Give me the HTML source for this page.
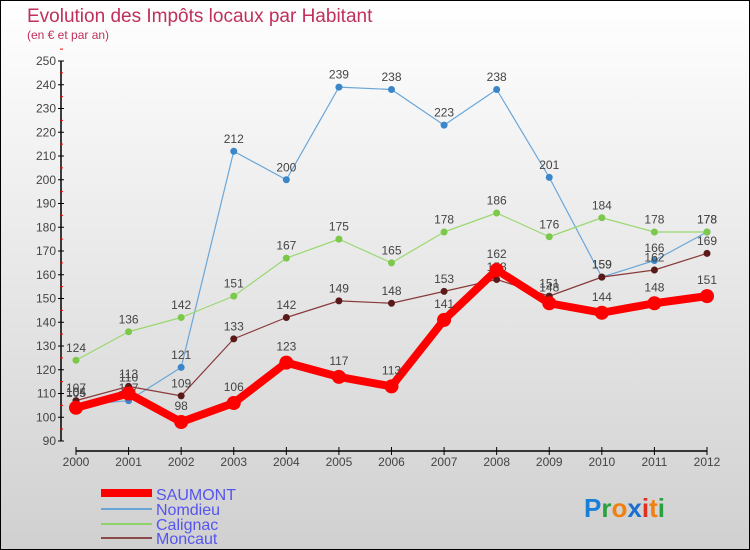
<!DOCTYPE html>
<html><head><meta charset="utf-8"><style>
body{margin:0}
#c{width:748px;height:548px;border:1px solid #000;background:linear-gradient(#fff,#d0d0d0);position:relative;font-family:"Liberation Sans",sans-serif;overflow:hidden}
</style></head><body>
<div id="c">
<svg id="s" width="748" height="548" xmlns="http://www.w3.org/2000/svg">
<text x="26" y="21" font-size="19" fill="#c0305a">Evolution des Impôts locaux par Habitant</text>
<text x="26" y="38" font-size="12" fill="#c0305a">(en € et par an)</text>
<g id="axes"></g><g id="plot"></g>
<g font-size="16" fill="#5555ee">
<rect x="100" y="488" width="51" height="8" fill="#f00"/>
<text x="155" y="499">SAUMONT</text>
<rect x="100" y="507" width="51" height="2" fill="#6aa6d8"/>
<text x="155" y="514">Nomdieu</text>
<rect x="100" y="522" width="51" height="2" fill="#8fd46a"/>
<text x="155" y="529">Calignac</text>
<rect x="100" y="536" width="51" height="2" fill="#8a4a4a"/>
<text x="155" y="543">Moncaut</text>
</g>
<g font-size="26" font-weight="bold">
<text x="583" y="516"><tspan fill="#1a7fd8">P</tspan><tspan fill="#2aa040">r</tspan><tspan fill="#f08010">o</tspan><tspan fill="#1a6fd0">x</tspan><tspan fill="#e03020">i</tspan><tspan fill="#f08010">t</tspan><tspan fill="#2aa040">i</tspan></text>
</g>
</svg>
</div>
<script>
const years=[2000,2001,2002,2003,2004,2005,2006,2007,2008,2009,2010,2011,2012];
const saumont=[104,110,98,106,123,117,113,141,162,148,144,148,151];
const nomdieu=[105,107,121,212,200,239,238,223,238,201,159,166,178];
const calignac=[124,136,142,151,167,175,165,178,186,176,184,178,178];
const moncaut=[107,113,109,133,142,149,148,153,158,151,159,162,169];
const yTicks=[90,100,110,120,130,140,150,160,170,180,190,200,210,220,230,240,250];
const NS="http://www.w3.org/2000/svg";
const X=i=>75+i*(706-75)/(years.length-1);
const Y=v=>440-(v-90)*(380/160);
function mk(t,a,p){const e=document.createElementNS(NS,t);for(const k in a)e.setAttribute(k,a[k]);p.appendChild(e);return e;}
const ax=document.getElementById('axes'),pl=document.getElementById('plot');
const ya=mk('line',{x1:60,y1:Y(250),x2:60,y2:Y(90),stroke:'#000','stroke-width':1.5},ax);


yTicks.forEach(v=>{
 mk('line',{x1:57,x2:63,y1:Y(v),y2:Y(v),stroke:'#000'},ax);
 mk('line',{x1:59,x2:62,y1:Y(v+5),y2:Y(v+5),stroke:'#e00'},ax);
 const t=mk('text',{x:55,y:Y(v)+4,'text-anchor':'end','font-size':12,fill:'#444'},ax);t.textContent=v;
 
 
});
const xa=mk('line',{x1:75,y1:450,x2:706,y2:450,stroke:'#000','stroke-width':1.5},ax);


years.forEach((y,i)=>{
 mk('line',{x1:X(i),x2:X(i),y1:446,y2:454,stroke:'#000'},ax);
 const t=mk('text',{x:X(i),y:465,'text-anchor':'middle','font-size':12,fill:'#444'},ax);t.textContent=y;
 
 
});
function series(name,data,color,w,r,dot){
 const g=mk('g',{},pl);
 
 
 mk('polyline',{points:data.map((v,i)=>X(i)+','+Y(v)).join(' '),fill:'none',stroke:color,'stroke-width':w,'stroke-linejoin':'round'},g);
 data.forEach((v,i)=>{
  const c=mk('circle',{cx:X(i),cy:Y(v),r:r,fill:dot},g);
  
  
  const t=mk('text',{x:X(i),y:Y(v)-(r+5),'text-anchor':'middle','font-size':12,fill:'#444'},g);t.textContent=v;
  
  
 });
}
series('nomdieu',nomdieu,'#6aa6d8',1.2,3.5,'#3a86c8');
series('calignac',calignac,'#9ad870',1.2,3.5,'#7cc84a');
series('moncaut',moncaut,'#8a3a3a',1.2,3.5,'#5a1a1a');
series('saumont',saumont,'#f00',8,7,'#f00');
</script>
</body></html>
